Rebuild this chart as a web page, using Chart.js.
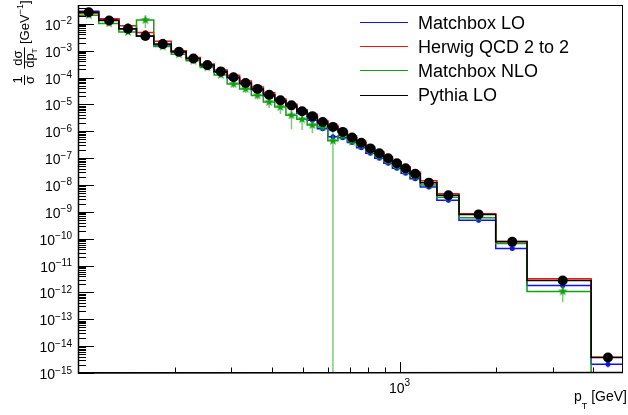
<!DOCTYPE html>
<html>
<head>
<meta charset="utf-8">
<script src="https://cdn.jsdelivr.net/npm/chart.js@4.4.1/dist/chart.umd.min.js"></script>
<style>
    html, body { margin: 0; padding: 0; background: #fff; overflow: hidden; }
    canvas { display: block; }
</style>
</head>
<body>
<canvas id="ptChart" width="628" height="415"></canvas>
<script>
// pT bin edges [GeV]
var binEdges = [100, 116, 134, 152, 172, 195, 217, 240, 265, 291, 318, 346, 377, 409, 443, 479,
    516, 555, 598, 643, 688, 735, 785, 837, 893, 950, 1011, 1077, 1160, 1306, 1530, 1990, 2490, 3940, 4950];

var seriesNames = ['Matchbox LO', 'Herwig QCD 2 to 2', 'Matchbox NLO', 'Pythia LO'];

// 1/sigma dsigma/dpT per bin [GeV^-1]
var matchboxLO = [2.94e-2, 1.44e-2, 6.4e-3, 3.45e-3, 1.61e-3, 8.9e-4, 5.0e-4, 2.65e-4, 1.56e-4, 9.33e-5, 5.75e-5, 3.46e-5,
    2.07e-5, 1.29e-5, 8.43e-6, 4.66e-6, 2.59e-6, 1.23e-6, 6.21e-7, 5.69e-7, 3.82e-7, 2.44e-7, 1.50e-7, 9.82e-8,
    6.43e-8, 4.20e-8, 2.75e-8, 1.71e-8, 8.43e-9, 2.70e-9, 4.82e-10, 4.31e-11, 1.81e-12, 2.13e-15];
var herwigQCD = [2.48e-2, 1.53e-2, 8.44e-3, 4.73e-3, 2.26e-3, 9.84e-4, 5.56e-4, 3.15e-4, 1.92e-4, 1.21e-4, 7.43e-5, 4.47e-5,
    2.68e-5, 1.60e-5, 1.04e-5, 6.27e-6, 4.32e-6, 2.52e-6, 1.65e-6, 1.07e-6, 6.64e-7, 4.24e-7, 2.61e-7, 1.71e-7,
    1.12e-7, 7.30e-8, 4.78e-8, 2.96e-8, 1.44e-8, 4.69e-9, 8.51e-10, 8.09e-11, 3.21e-12, 3.85e-15];
var matchboxNLO = [2.09e-2, 1.03e-2, 4.93e-3, 1.37e-2, 1.42e-3, 7.36e-4, 4.20e-4, 2.38e-4, 1.24e-4, 5.75e-5, 3.77e-5, 2.15e-5,
    1.22e-5, 7.96e-6, 3.93e-6, 2.80e-6, 1.69e-6, 1.45e-6, 4.42e-7, 6.73e-7, 4.16e-7, 2.89e-7, 1.78e-7, 1.16e-7,
    7.62e-8, 4.98e-8, 3.26e-8, 2.02e-8, 1.00e-8, 3.48e-9, 6.05e-10, 6.59e-11, 1.09e-12, 0];
var pythiaLO = [2.70e-2, 1.32e-2, 6.53e-3, 3.52e-3, 1.75e-3, 9.04e-4, 5.11e-4, 2.89e-4, 1.69e-4, 1.02e-4, 6.27e-5, 3.77e-5,
    2.26e-5, 1.41e-5, 9.18e-6, 5.52e-6, 3.64e-6, 2.22e-6, 1.45e-6, 9.46e-7, 5.85e-7, 3.73e-7, 2.30e-7, 1.50e-7,
    9.84e-8, 6.43e-8, 4.21e-8, 2.61e-8, 1.22e-8, 4.13e-9, 8.02e-10, 7.62e-11, 2.77e-12, 3.77e-15];

// relative statistical errors per bin
var errMatchboxLO = [0.08, 0.08, 0.08, 0.08, 0.08, 0.08, 0.08, 0.08, 0.08, 0.08, 0.08, 0.08, 0.1, 0.1, 0.1, 0.15, 0.15,
    0.15, 0.2, 0.15, 0.15, 0.15, 0.15, 0.15, 0.15, 0.15, 0.15, 0.15, 0.2, 0.2, 0.2, 0.2, 0.25, 0.25];
var errHerwigQCD = [0.08, 0.08, 0.15, 0.15, 0.12, 0.08, 0.08, 0.08, 0.08, 0.08, 0.08, 0.08, 0.1, 0.1, 0.1, 0.12, 0.12,
    0.12, 0.12, 0.12, 0.12, 0.12, 0.12, 0.12, 0.12, 0.12, 0.12, 0.12, 0.15, 0.15, 0.15, 0.15, 0.2, 0.2];
var errMatchboxNLO = [0.1, 0.1, 0.1, 0.5, 0.1, 0.1, 0.1, 0.15, 0.2, 0.3, 0.3, 0.3, 0.4, 0.45, 0.7, 0.6, 0.5,
    0.3, 1.2, 0.2, 0.2, 0.15, 0.15, 0.15, 0.15, 0.15, 0.15, 0.15, 0.1, 0.1, 0.1, 0.1, 0.6, 0];
var errPythiaLO = [0.05, 0.05, 0.05, 0.05, 0.05, 0.05, 0.05, 0.05, 0.05, 0.05, 0.05, 0.05, 0.05, 0.05, 0.05, 0.05, 0.05,
    0.05, 0.05, 0.05, 0.05, 0.05, 0.05, 0.05, 0.05, 0.05, 0.05, 0.05, 0.05, 0.05, 0.05, 0.05, 0.05, 0.05];

var yTickPowers = [-2, -3, -4, -5, -6, -7, -8, -9, -10, -11, -12, -13, -14, -15];
var xTickPowers = [3];

var X_MIN = 100, X_MAX = 4950, Y_MIN = 1e-15, Y_MAX = 0.05;
var FONT = '"Liberation Sans", Arial, Helvetica, sans-serif';

var colBlue = '#1010ff', colRed = '#ff1010', colGreen = '#10a010', colBlack = '#000000';

function makeStar(size, color) {
    var c = document.createElement('canvas');
    c.width = size; c.height = size;
    var g = c.getContext('2d');
    var cx = size / 2, cy = size / 2, R = size / 2, r = R * 0.42;
    g.fillStyle = color;
    g.beginPath();
    for (var k = 0; k < 10; k++) {
        var ang = -Math.PI / 2 + k * Math.PI / 5;
        var rr = (k % 2) ? r : R;
        g.lineTo(cx + rr * Math.cos(ang), cy + rr * Math.sin(ang));
    }
    g.closePath();
    g.fill();
    return c;
}

// step outline: one point per lower edge, plus the last upper edge
function stepData(values) {
    var pts = [];
    for (var i = 0; i < values.length; i++) {
        pts.push({ x: binEdges[i], y: values[i] > 0 ? values[i] : Y_MIN });
    }
    pts.push({ x: binEdges[values.length], y: values[values.length - 1] > 0 ? values[values.length - 1] : Y_MIN });
    return pts;
}

function markerData(values) {
    var pts = [];
    for (var i = 0; i < values.length; i++) {
        if (values[i] > 0) pts.push({ x: (binEdges[i] + binEdges[i + 1]) / 2, y: values[i], bin: i });
    }
    return pts;
}

function lineSet(values, color, order) {
    return { data: stepData(values), borderColor: color, borderWidth: 1.5, stepped: true,
        pointRadius: 0, fill: false, order: order };
}

function markerSet(values, errs, color, errColor, style, radius, order) {
    return { data: markerData(values), showLine: false, pointStyle: style, pointRadius: radius,
        backgroundColor: color, borderColor: color, borderWidth: 0, order: order,
        relErr: errs, errColor: errColor };
}

var rootStyle = {
    id: 'rootStyle',
    beforeDatasetDraw: function(chart, args) {
        var ds = chart.data.datasets[args.index];
        if (!ds.relErr) return;
        var ctx = chart.ctx, a = chart.chartArea, ys = chart.scales.y;
        ctx.save();
        ctx.beginPath();
        ctx.rect(a.left, a.top, a.right - a.left, a.bottom - a.top);
        ctx.clip();
        ctx.strokeStyle = ds.errColor;
        ctx.lineWidth = 1.5;
        args.meta.data.forEach(function(pt, i) {
            var raw = ds.data[i];
            var r = ds.relErr[raw.bin];
            var hi = ys.getPixelForValue(raw.y * (1 + r));
            var lo = raw.y * (1 - r) > Y_MIN ? ys.getPixelForValue(raw.y * (1 - r)) : a.bottom;
            ctx.beginPath();
            ctx.moveTo(pt.x, hi);
            ctx.lineTo(pt.x, lo);
            ctx.stroke();
        });
        ctx.restore();
    },
    afterDraw: function(chart) {
        var ctx = chart.ctx, a = chart.chartArea, xs = chart.scales.x, ys = chart.scales.y;
        ctx.save();
        ctx.strokeStyle = '#000';
        ctx.fillStyle = '#000';

        // frame
        ctx.lineWidth = 1;
        ctx.strokeRect(a.left + 0.5, a.top + 0.5, a.right - a.left - 1, a.bottom - a.top - 1);
        ctx.lineWidth = 1.5;
        ctx.beginPath();
        ctx.moveTo(a.left + 0.5, a.top);
        ctx.lineTo(a.left + 0.5, a.bottom);
        ctx.lineTo(a.right, a.bottom - 0.5);
        ctx.stroke();

        // y ticks (inside the frame)
        ctx.lineWidth = 1;
        for (var p = -15; p <= -2; p++) {
            for (var k = 1; k <= 9; k++) {
                var v = k * Math.pow(10, p);
                if (v < Y_MIN || v > Y_MAX) continue;
                var py = Math.round(ys.getPixelForValue(v)) + 0.5;
                ctx.beginPath();
                ctx.moveTo(a.left, py);
                ctx.lineTo(a.left + (k === 1 ? 16 : 8), py);
                ctx.stroke();
            }
        }
        // x ticks
        for (var d = 2; d <= 3; d++) {
            for (var k2 = 1; k2 <= 9; k2++) {
                var xv = k2 * Math.pow(10, d);
                if (xv < X_MIN || xv > X_MAX) continue;
                var px = Math.round(xs.getPixelForValue(xv)) + 0.5;
                ctx.beginPath();
                ctx.moveTo(px, a.bottom);
                ctx.lineTo(px, a.bottom - (k2 === 1 ? 11 : 5.5));
                ctx.stroke();
            }
        }

        // y tick labels
        ctx.textAlign = 'left';
        ctx.textBaseline = 'alphabetic';
        yTickPowers.forEach(function(pw) {
            var ty = ys.getPixelForValue(Math.pow(10, pw));
            var sup = '\u2212' + (-pw);
            ctx.font = '10px ' + FONT;
            var wSup = ctx.measureText(sup).width;
            ctx.font = '14px ' + FONT;
            var wBase = ctx.measureText('10').width;
            var right = 72;
            ctx.fillText('10', right - wSup - wBase, ty + 6);
            ctx.font = '10px ' + FONT;
            ctx.fillText(sup, right - wSup, ty + 0.5);
        });

        // x tick labels
        xTickPowers.forEach(function(pw) {
            var tx = xs.getPixelForValue(Math.pow(10, pw));
            ctx.font = '14px ' + FONT;
            var wBase = ctx.measureText('10').width;
            ctx.font = '10px ' + FONT;
            var wSup = ctx.measureText(String(pw)).width;
            var left = tx - (wBase + wSup) / 2;
            ctx.font = '14px ' + FONT;
            ctx.fillText('10', left, 393);
            ctx.font = '10px ' + FONT;
            ctx.fillText(String(pw), left + wBase, 386);
        });

        // x title: p_T [GeV]
        ctx.font = '14px ' + FONT;
        var wGev = ctx.measureText('[GeV]').width;
        var gevX = 627 - wGev;
        ctx.fillText('[GeV]', gevX, 401);
        ctx.font = '9px ' + FONT;
        var wT = ctx.measureText('T').width;
        var tX = gevX - 4 - wT;
        ctx.fillText('T', tX, 409);
        ctx.font = '14px ' + FONT;
        var wP = ctx.measureText('p').width;
        ctx.fillText('p', tX - wP, 401);

        // y title, rotated: 1/sigma dsigma/dp_T [GeV^-1]
        ctx.save();
        ctx.rotate(-Math.PI / 2);
        drawFrac(ctx, '1', 'σ', '', -80, 24);
        drawFrac(ctx, 'dσ', 'dp', 'T', -58, 24);
        var xx = -44;
        ctx.font = '13px ' + FONT;
        ctx.textAlign = 'left';
        ctx.fillText('[GeV', xx, 28.5);
        xx += ctx.measureText('[GeV').width;
        ctx.font = '9px ' + FONT;
        ctx.fillText('\u22121', xx, 22.5);
        xx += ctx.measureText('\u22121').width;
        ctx.font = '13px ' + FONT;
        ctx.fillText(']', xx, 28.5);
        ctx.restore();

        // legend (no border)
        var legCols = [colBlue, colRed, colGreen, colBlack];
        ctx.font = '18px ' + FONT;
        seriesNames.forEach(function(name, i) {
            var base = 28.5 + i * 24.2;
            ctx.strokeStyle = legCols[i];
            ctx.lineWidth = 1;
            ctx.beginPath();
            ctx.moveTo(360, Math.round(base - 6.5) + 0.5);
            ctx.lineTo(408, Math.round(base - 6.5) + 0.5);
            ctx.stroke();
            ctx.fillStyle = '#000';
            ctx.fillText(name, 418, base);
        });
        ctx.restore();
    }
};

function drawFrac(ctx, num, den, denSub, cx, barY) {
    ctx.font = '13px ' + FONT;
    var wNum = ctx.measureText(num).width;
    var wDen = ctx.measureText(den).width;
    var wSub = 0;
    if (denSub) {
        ctx.font = '8px ' + FONT;
        wSub = ctx.measureText(denSub).width;
    }
    var w = Math.max(wNum, wDen + wSub) + 2;
    ctx.textAlign = 'left';
    ctx.font = '13px ' + FONT;
    ctx.fillText(num, cx - wNum / 2, barY - 2.5);
    var dx = cx - (wDen + wSub) / 2;
    ctx.fillText(den, dx, barY + 10);
    if (denSub) {
        ctx.font = '8px ' + FONT;
        ctx.fillText(denSub, dx + wDen, barY + 13);
    }
    ctx.lineWidth = 1;
    ctx.strokeStyle = '#000';
    ctx.beginPath();
    ctx.moveTo(cx - w / 2, barY + 0.5);
    ctx.lineTo(cx + w / 2, barY + 0.5);
    ctx.stroke();
}

var ctx = document.getElementById('ptChart').getContext('2d');
var starStyle = makeStar(10, colGreen);

var ptChart = new Chart(ctx, {
    type: 'line',
    data: {
        datasets: [
            markerSet(pythiaLO, errPythiaLO, colBlack, 'rgba(0,0,0,0.6)', 'circle', 5, 1),
            lineSet(pythiaLO, colBlack, 2),
            markerSet(matchboxNLO, errMatchboxNLO, colGreen, 'rgba(16,160,16,0.55)', starStyle, 5, 3),
            lineSet(matchboxNLO, colGreen, 4),
            markerSet(herwigQCD, errHerwigQCD, colRed, 'rgba(255,16,16,0.6)', 'circle', 2.5, 5),
            lineSet(herwigQCD, colRed, 6),
            markerSet(matchboxLO, errMatchboxLO, colBlue, 'rgba(16,16,255,0.6)', 'circle', 2.5, 7),
            lineSet(matchboxLO, colBlue, 8)
        ]
    },
    options: {
        responsive: false,
        animation: false,
        devicePixelRatio: 1,
        events: [],
        layout: { padding: { top: 2, right: 1, left: 0, bottom: 0 } },
        plugins: { legend: { display: false }, tooltip: { enabled: false } },
        scales: {
            x: {
                type: 'logarithmic', min: X_MIN, max: X_MAX,
                ticks: { display: false }, grid: { display: false }, border: { display: false },
                afterFit: function(s) { s.height = 42; }
            },
            y: {
                type: 'logarithmic', min: Y_MIN, max: Y_MAX,
                ticks: { display: false }, grid: { display: false }, border: { display: false },
                afterFit: function(s) { s.width = 78; }
            }
        }
    },
    plugins: [rootStyle]
});
</script>
</body>
</html>
